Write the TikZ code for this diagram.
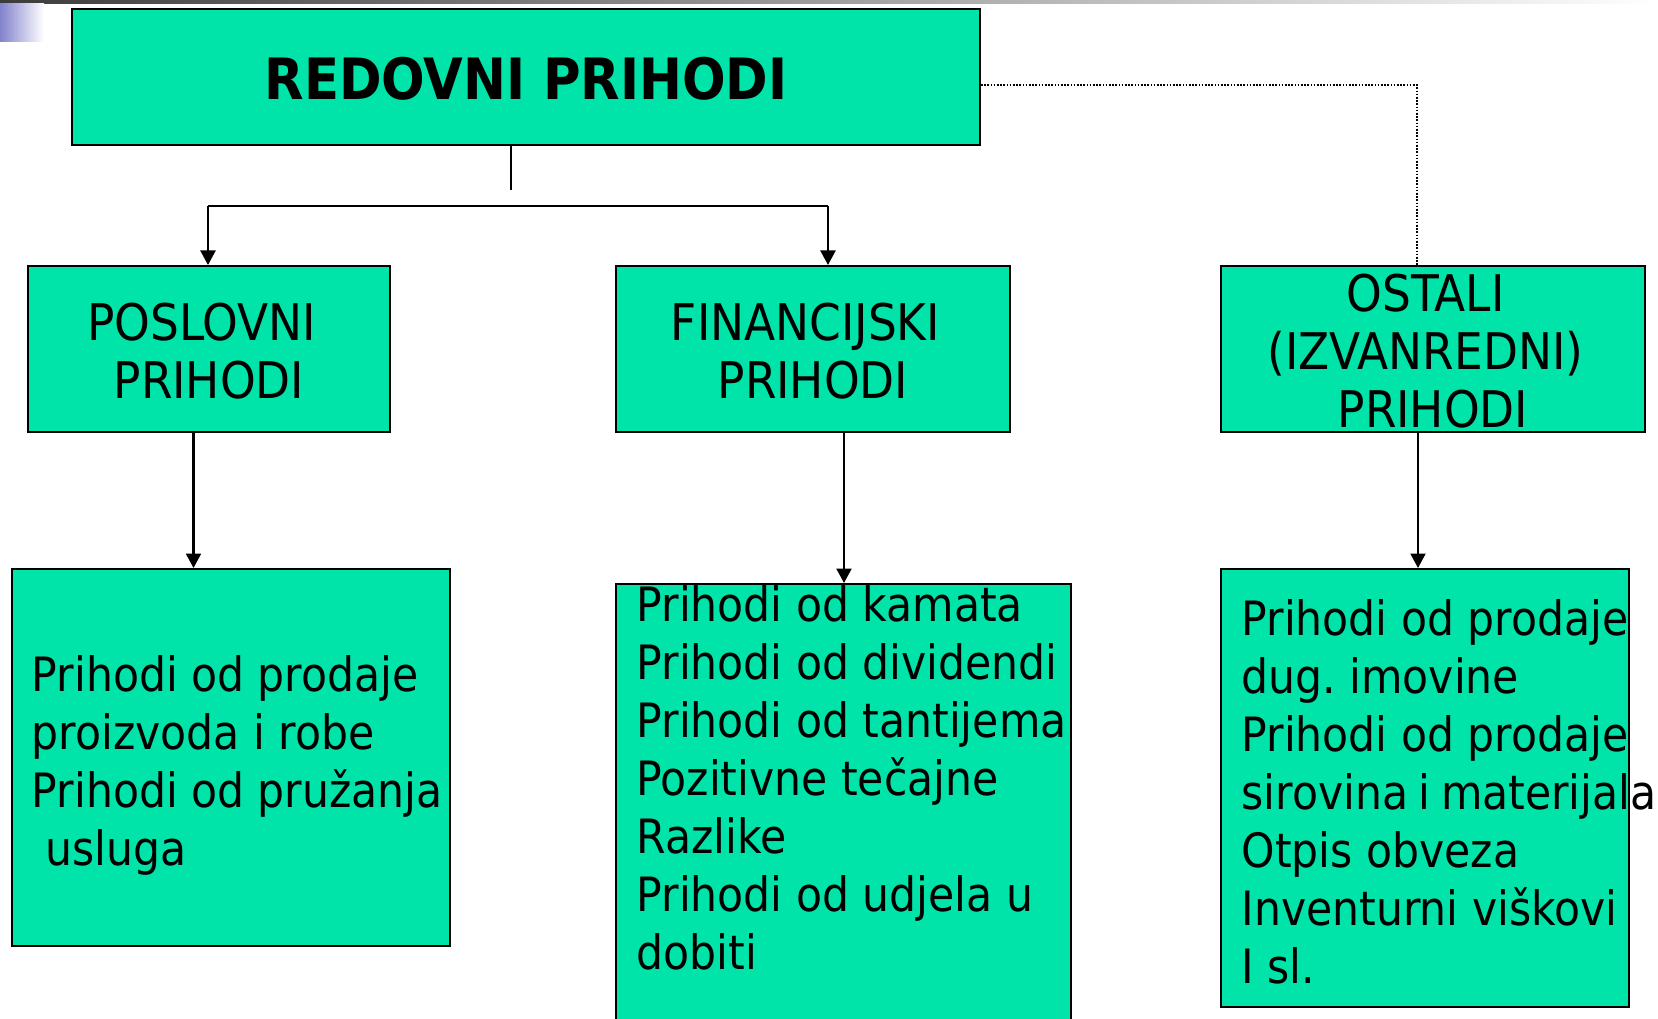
\documentclass[tikz,border=0pt]{standalone}
\usepackage{fontspec}
\setmainfont{DejaVu Sans Condensed}[BoldFont={DejaVu Sans Condensed Bold}]
\usetikzlibrary{arrows.meta}
\definecolor{boxgreen}{RGB}{0,228,170}
\definecolor{topbar}{RGB}{60,60,60}
\definecolor{bluesq}{RGB}{130,130,205}
\newcommand{\tsp}{\rule{15pt}{0pt}}
\frenchspacing
\begin{document}
\begin{tikzpicture}[x=1pt,y=-1pt,
  box/.style={draw=black,line width=2pt,fill=boxgreen,inner sep=0pt},
  ttl/.style={inner sep=0pt,align=center,yshift=-2pt,font=\fontsize{50.5}{58}\selectfont},
  txt/.style={inner sep=0pt,align=left,anchor=north west,font=\fontsize{47.3}{58}\selectfont},
  conn/.style={line width=2.2pt},
  arr/.style={line width=2.2pt,-{Triangle[length=14.5pt,width=15pt]}},
  dots/.style={line width=1.6pt,dash pattern=on 1.6pt off 1.6pt}]
\useasboundingbox (0,0) rectangle (1658,1019);
\fill[white] (0,0) rectangle (1658,1019);
% decorations
\shade[left color=topbar,right color=white] (0,0) rectangle (1658,3.5);
\shade[left color=bluesq,right color=white] (0,3.5) rectangle (44,42);
% boxes
\node[box,minimum width=908,minimum height=136] (top) at (526,77) {};
\node[box,minimum width=362,minimum height=166] (pos) at (209,349) {};
\node[box,minimum width=394,minimum height=166] (fin) at (813,349) {};
\node[box,minimum width=424,minimum height=166] (ost) at (1433,349) {};
\node[box,minimum width=438,minimum height=377] (posb) at (231,757.5) {};
\node[box,minimum width=455,minimum height=460] (finb) at (843.5,814) {};
\node[box,minimum width=408,minimum height=438] (ostb) at (1425,788) {};
% titles
\node[ttl,font=\fontsize{57}{66}\selectfont\bfseries] (topt) at (top.center) {REDOVNI PRIHODI};
\node[ttl] (post1) at (pos.center) {POSLOVNI\tsp\\PRIHODI};
\node[ttl] (fint1) at (fin.center) {FINANCIJSKI\tsp\\PRIHODI};
\node[ttl] (ostt1) at (ost.center) {OSTALI\tsp\\(IZVANREDNI)\tsp\\PRIHODI};
% texts
\node[txt] (post) at (31.7,655) {Prihodi od prodaje\\proizvoda i robe\\Prihodi od pružanja\\\ usluga};
\node[txt] (fint) at (636.6,585.5) {Prihodi od kamata\\Prihodi od dividendi\\Prihodi od tantijema\\Pozitivne tečajne\\Razlike\\Prihodi od udjela u\\dobiti};
\node[txt] (ostt) at (1241.5,599) {Prihodi od prodaje\\dug. imovine\\Prihodi od prodaje\\sirovina\hspace{10.5pt}i\hspace{10.5pt}materijala\\Otpis obveza\\Inventurni viškovi\\I sl.};
% connectors
\coordinate (stem) at (511,190);
\coordinate (bl) at (208,206);
\coordinate (br) at (828,206);
\draw[conn] (top.south -| stem) -- (stem);
\draw[conn] (bl) -- (br);
\draw[arr] (bl) -- (bl |- pos.north);
\draw[arr] (br) -- (br |- fin.north);
\coordinate (dc) at (1417,85);
\draw[dots] (top.east |- dc) -- (dc) -- (dc |- ost.north);
\coordinate (pa) at (193.5,0);
\coordinate (fa) at (844,0);
\coordinate (oa) at (1418,0);
\draw[arr] (pos.south -| pa) -- (posb.north -| pa);
\draw[arr] (fin.south -| fa) -- (finb.north -| fa);
\draw[arr] (ost.south -| oa) -- (ostb.north -| oa);
\end{tikzpicture}
\end{document}
